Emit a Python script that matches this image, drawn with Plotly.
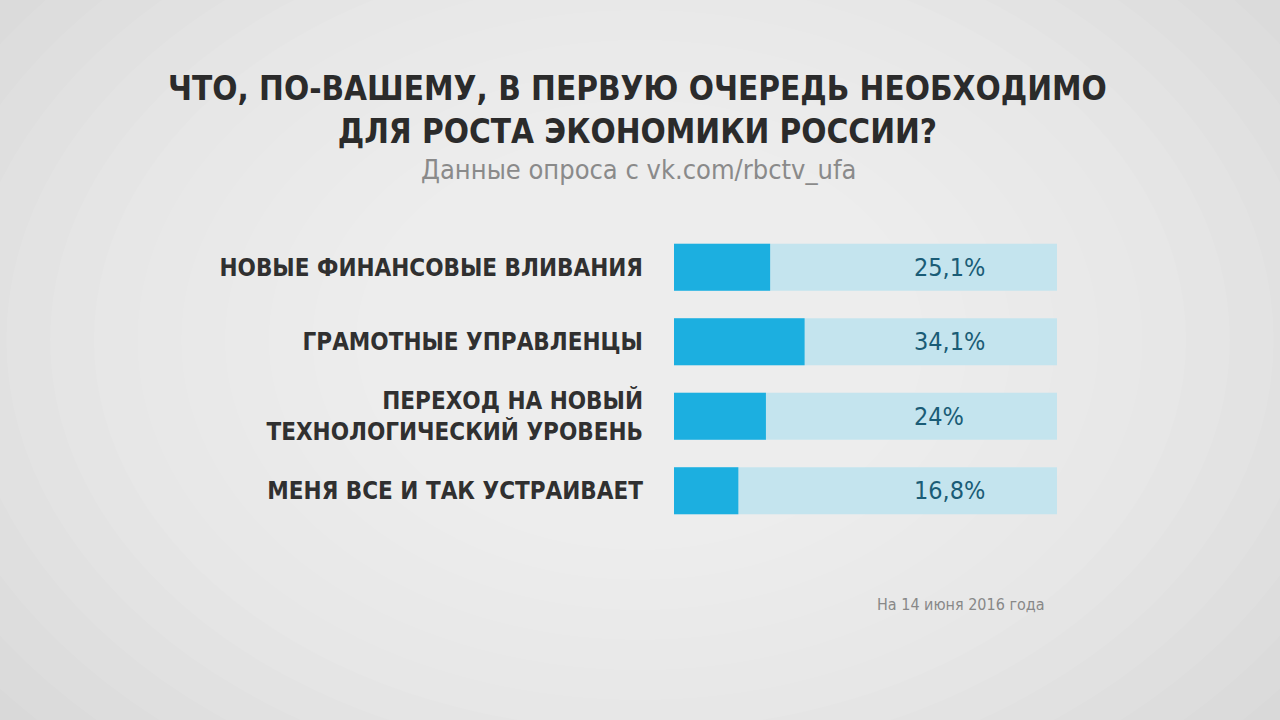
import plotly.graph_objects as go

categories = [
    "НОВЫЕ ФИНАНСОВЫЕ ВЛИВАНИЯ",
    "ГРАМОТНЫЕ УПРАВЛЕНЦЫ",
    "ПЕРЕХОД НА НОВЫЙ<br>ТЕХНОЛОГИЧЕСКИЙ УРОВЕНЬ",
    "МЕНЯ ВСЕ И ТАК УСТРАИВАЕТ",
]
values = [25.1, 34.1, 24.0, 16.8]
value_labels = ["25,1%", "34,1%", "24%", "16,8%"]
track_total = [100, 100, 100, 100]

title_line1 = "ЧТО, ПО-ВАШЕМУ, В ПЕРВУЮ ОЧЕРЕДЬ НЕОБХОДИМО"
title_line2 = "ДЛЯ РОСТА ЭКОНОМИКИ РОССИИ?"
subtitle = "Данные опроса с vk.com/rbctv_ufa"
footnote = "На 14 июня 2016 года"

ML, MR, MT, MB = 674, 223, 230, 192
W, H = 1280, 720
pw = W - ML - MR
ph = H - MT - MB


def px_x(px):
    return (px - ML) / pw


def px_y(py):
    return (H - MB - py) / ph


fig = go.Figure()

# soft radial glow on the background (full-canvas pixel coordinates)
cx, cy = 640, 340
n = 16
for i in range(n):
    f = 1 - i / n
    rx, ry = 240 + 700 * f, 180 + 480 * f
    fig.add_shape(type="circle", xref="paper", yref="paper",
                  x0=px_x(cx - rx), x1=px_x(cx + rx),
                  y0=px_y(cy + ry), y1=px_y(cy - ry),
                  fillcolor="white", opacity=0.075, line_width=0, layer="below")

fig.add_trace(go.Bar(
    y=categories, x=track_total, orientation="h",
    marker=dict(color="#c4e4ee", line_width=0), width=0.63,
    hoverinfo="skip", showlegend=False,
))
fig.add_trace(go.Bar(
    y=categories, x=values, orientation="h",
    marker=dict(color="#1cafe0", line_width=0), width=0.63,
    showlegend=False,
))

for c, lab in zip(categories, value_labels):
    fig.add_annotation(x=62.1, y=c, text=lab, showarrow=False,
                       xanchor="left", yanchor="middle",
                       font=dict(family="DejaVu Sans Condensed", size=25, color="#1a5c76"))

fig.update_layout(
    barmode="overlay",
    width=W, height=H,
    margin=dict(l=ML, r=MR, t=MT, b=MB),
    paper_bgcolor="#d0d0d0",
    plot_bgcolor="rgba(0,0,0,0)",
    xaxis=dict(range=[0, 100], visible=False, fixedrange=True),
    yaxis=dict(categoryorder="array", categoryarray=categories, autorange="reversed",
               showgrid=False, zeroline=False, showline=False,
               ticks="", ticklabelstandoff=30,
               tickfont=dict(family="DejaVu Sans Condensed", size=24, color="#303030",
                             weight="bold")),
    font=dict(family="DejaVu Sans Condensed"),
)

fig.add_annotation(xref="paper", yref="paper", x=px_x(637), y=px_y(110),
                   text="<b>" + title_line1 + "<br>" + title_line2 + "</b>",
                   showarrow=False, xanchor="center", yanchor="middle",
                   font=dict(family="DejaVu Sans Condensed", size=33, color="#2b2b2b"),
                   align="center")
fig.add_annotation(xref="paper", yref="paper", x=px_x(638), y=px_y(169),
                   text=subtitle, showarrow=False, xanchor="center", yanchor="middle",
                   font=dict(family="DejaVu Sans Condensed", size=27, color="#8a8a8a"))
fig.add_annotation(xref="paper", yref="paper", x=px_x(1047), y=px_y(604),
                   text=footnote, showarrow=False, xanchor="right", yanchor="middle",
                   font=dict(family="DejaVu Sans Condensed", size=16, color="#888888"))

fig.write_html("out.html")
